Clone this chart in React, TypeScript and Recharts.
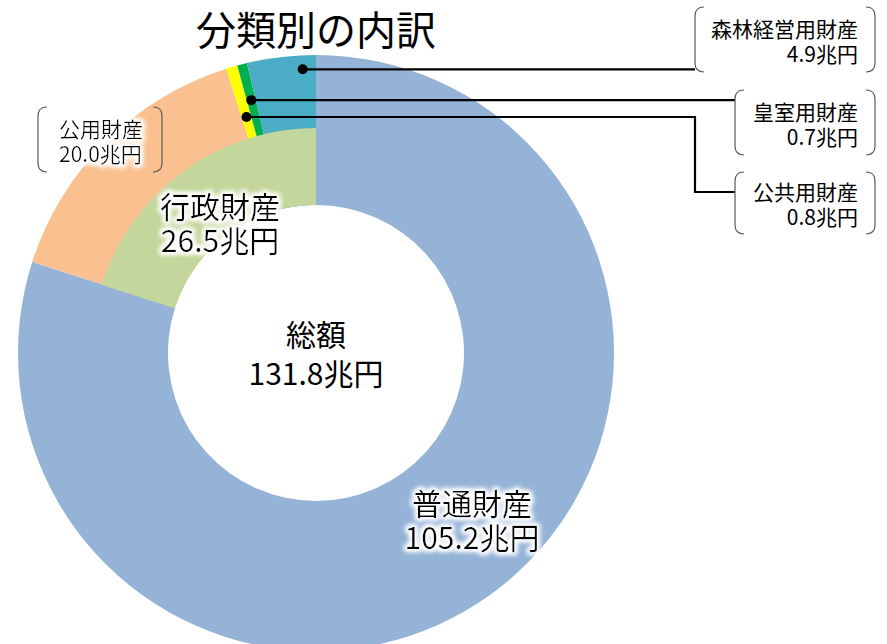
import React from "react";
import { PieChart, Pie, Cell } from "recharts";

// inner ring: 普通財産 / 行政財産
const groupNames = ["普通財産", "行政財産"];
const groupValues = [105.2, 26.5];

// outer ring: breakdown of 行政財産 (普通財産 kept full thickness)
const detailNames = ["普通財産", "公用財産", "公共用財産", "皇室用財産", "森林経営用財産"];
const detailValues = [105.2, 20.0, 0.8, 0.7, 4.9];

const totalValue = "131.8";
const unit = "兆円";
const title = "分類別の内訳";

const groupData = groupNames.map((name, i) => ({ name, value: groupValues[i] }));
const detailData = detailNames.map((name, i) => ({ name, value: detailValues[i] }));

const groupColors: Record<string, string> = {
  普通財産: "transparent",
  行政財産: "#C3D69B",
};
const detailColors: Record<string, string> = {
  普通財産: "#95B3D7",
  公用財産: "#FAC090",
  公共用財産: "#FFFF00",
  皇室用財産: "#00B050",
  森林経営用財産: "#4BACC6",
};

const FONT = '"Noto Sans CJK JP", "Noto Sans", sans-serif';
const RAD = Math.PI / 180;

const polar = (cx: number, cy: number, r: number, angle: number) => ({
  x: cx + Math.cos(-angle * RAD) * r,
  y: cy + Math.sin(-angle * RAD) * r,
});

const bracket = (x: number, y: number, w: number, h: number, r = 9) =>
  `M${x + r},${y} Q${x},${y} ${x},${y + r} L${x},${y + h - r} Q${x},${y + h} ${x + r},${y + h} ` +
  `M${x + w - r},${y} Q${x + w},${y} ${x + w},${y + r} L${x + w},${y + h - r} Q${x + w},${y + h} ${x + w - r},${y + h}`;

type Box = { x: number; y: number; w: number; h: number };
type Callout = {
  r?: number;
  frac?: number;
  box: Box;
  align: "left" | "right";
  route?: (p: { x: number; y: number }) => number[][];
};

const callouts: Record<string, Callout> = {
  公用財産: { box: { x: 38, y: 107, w: 124, h: 65 }, align: "left" },
  森林経営用財産: {
    r: 284,
    frac: 0.8,
    box: { x: 695, y: 7, w: 180, h: 65 },
    align: "right",
    route: (p) => [[p.x, p.y], [695, p.y]],
  },
  皇室用財産: {
    r: 261,
    box: { x: 735, y: 90, w: 140, h: 65 },
    align: "right",
    route: (p) => [[p.x, p.y], [735, p.y]],
  },
  公共用財産: {
    r: 246,
    box: { x: 735, y: 172, w: 140, h: 62 },
    align: "right",
    route: (p) => [[p.x, p.y], [695, p.y], [695, 192], [735, 192]],
  },
};

const renderDetailLabel = (props: any) => {
  const { cx, cy, midAngle, startAngle, endAngle, name, value } = props;
  const c = callouts[name];
  if (!c) return null;
  const { box } = c;
  const mid = box.y + box.h / 2;
  const tx = c.align === "right" ? box.x + box.w - 17 : box.x + 21;
  const anchor = c.align === "right" ? "end" : "start";
  let leader = null;
  if (c.route && c.r) {
    const ang =
      c.frac != null && startAngle != null && endAngle != null
        ? startAngle + (endAngle - startAngle) * c.frac
        : midAngle;
    const p = polar(cx, cy, c.r, ang);
    const pts = c.route(p);
    leader = (
      <g>
        <polyline
          points={pts.map((q) => q.join(",")).join(" ")}
          fill="none"
          stroke="#000"
          strokeWidth={2.2}
        />
        <circle cx={p.x} cy={p.y} r={5} fill="#000" />
      </g>
    );
  }
  return (
    <g>
      {leader}
      <path d={bracket(box.x, box.y, box.w, box.h)} fill="none" stroke="#595959" strokeWidth={1.2} />
      <text
        x={tx}
        textAnchor={anchor}
        fontSize={21}
        fill="#000"
        fontFamily={FONT}
        filter={c.align === "left" ? "url(#glow)" : undefined}
      >
        <tspan x={tx} y={mid - 12} dominantBaseline="central">{name}</tspan>
        <tspan x={tx} y={mid + 13} dominantBaseline="central">{value.toFixed(1)}{unit}</tspan>
      </text>
    </g>
  );
};

const groupLabelOffset: Record<string, [number, number]> = {
  普通財産: [156, 166],
  行政財産: [-96, -131],
};

const renderGroupLabel = (props: any) => {
  const { cx, cy, name, value, index } = props;
  const off = groupLabelOffset[name];
  return (
    <g>
      {index === 0 && (
        <g>
          <defs>
            <filter id="glow" x="-20%" y="-30%" width="140%" height="160%">
              <feMorphology in="SourceAlpha" operator="dilate" radius={2} result="d" />
              <feGaussianBlur in="d" stdDeviation={2.5} result="b" />
              <feFlood floodColor="#ffffff" />
              <feComposite in2="b" operator="in" result="g" />
              <feMerge>
                <feMergeNode in="g" />
                <feMergeNode in="g" />
                <feMergeNode in="SourceGraphic" />
              </feMerge>
            </filter>
          </defs>
          <text x={cx} textAnchor="middle" fontSize={30} fill="#000" fontFamily={FONT}>
            <tspan x={cx} y={cy - 20} dominantBaseline="central">総額</tspan>
            <tspan x={cx} y={cy + 19} dominantBaseline="central">{totalValue}{unit}</tspan>
          </text>
        </g>
      )}
      <text
        x={cx + off[0]}
        textAnchor="middle"
        fontSize={30}
        fill="#000"
        fontFamily={FONT}
        filter="url(#glow)"
      >
        <tspan x={cx + off[0]} y={cy + off[1] - 17} dominantBaseline="central">{name}</tspan>
        <tspan x={cx + off[0]} y={cy + off[1] + 17} dominantBaseline="central">{value.toFixed(1)}{unit}</tspan>
      </text>
    </g>
  );
};

export default function App() {
  return (
    <div style={{ position: "absolute", left: 0, top: 0, width: 887, height: 644, background: "#fff", overflow: "hidden" }}>
      <div
        style={{
          position: "absolute",
          left: 0,
          top: 6,
          width: 632,
          textAlign: "center",
          fontFamily: FONT,
          fontSize: 40,
          lineHeight: "44px",
          color: "#000",
        }}
      >
        {title}
      </div>
      <PieChart width={887} height={644} margin={{ top: 0, right: 0, bottom: 0, left: 0 }} style={{ fontFamily: FONT }}>
        <Pie
          data={detailData}
          dataKey="value"
          nameKey="name"
          cx={316}
          cy={353}
          innerRadius={148}
          outerRadius={298}
          startAngle={90}
          endAngle={-270}
          stroke="none"
          label={renderDetailLabel}
          labelLine={false}
          isAnimationActive={false}
        >
          {detailData.map((d) => (
            <Cell key={d.name} fill={detailColors[d.name]} />
          ))}
        </Pie>
        <Pie
          data={groupData}
          dataKey="value"
          nameKey="name"
          cx={316}
          cy={353}
          innerRadius={148}
          outerRadius={225}
          startAngle={90}
          endAngle={-270}
          stroke="none"
          label={renderGroupLabel}
          labelLine={false}
          isAnimationActive={false}
        >
          {groupData.map((d) => (
            <Cell key={d.name} fill={groupColors[d.name]} />
          ))}
        </Pie>
      </PieChart>
    </div>
  );
}
